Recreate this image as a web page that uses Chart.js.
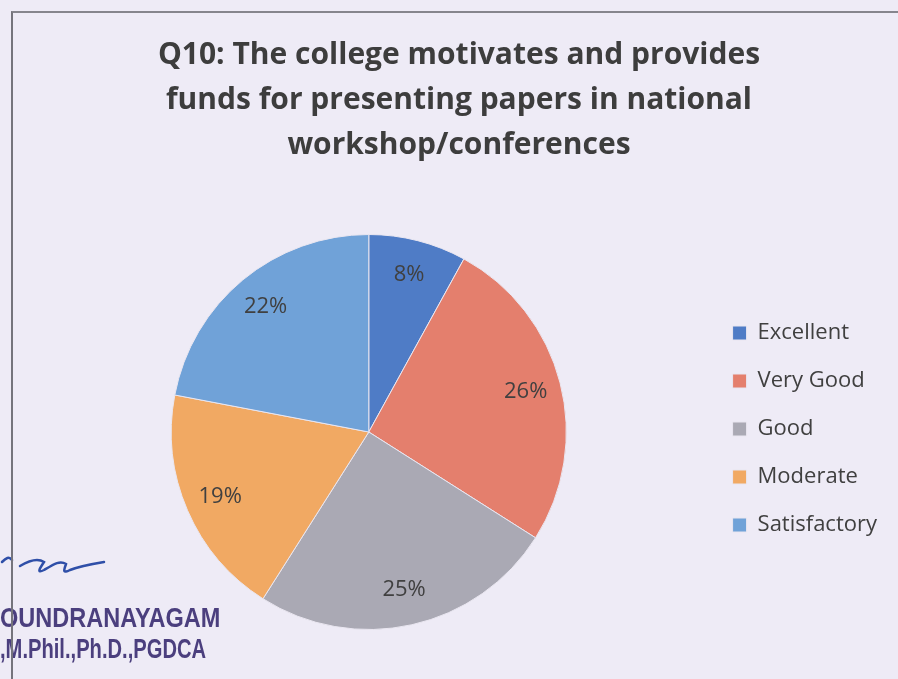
<!DOCTYPE html>
<html lang="en">
<head>
    <meta charset="UTF-8">
    <title>Q10 - funds for presenting papers</title>
    <script src="https://cdn.jsdelivr.net/npm/chart.js"></script>
    <style>
        body { margin: 0; width: 898px; height: 679px; overflow: hidden; position: relative; background: #eeebf6; }
        #box { position: absolute; left: 0; top: 0; width: 898px; height: 679px; }
        #frame { position: absolute; left: 11px; top: 11px; width: 900px; height: 700px;
                 border-left: 2px solid #75747c; border-top: 2px solid #86858d; z-index: 3; }
        .stamp { position: absolute; left: 0; font-family: "Liberation Sans", Arial, sans-serif; font-size: 28px;
                 font-weight: bold; color: #4b3f7e; white-space: nowrap; z-index: 2; transform-origin: 0 0; }
        #sig { position: absolute; left: 0; top: 548px; z-index: 2; }
    </style>
</head>
<body>
    <div id="box"><canvas id="pieChart" width="898" height="679"></canvas></div>
    <div id="frame"></div>
    <svg id="sig" width="120" height="40">
        <path d="M2 14 C6 10 9 8 12 12 M20 18 C30 12 38 10 44 14 C40 20 36 26 44 22 C54 16 60 12 66 16 C64 22 62 26 70 22 C80 18 92 16 104 14"
              fill="none" stroke="#2f4fa8" stroke-width="2.5" stroke-linecap="round"/>
    </svg>
    <div class="stamp" style="top:602px; transform:scaleX(0.84);">OUNDRANAYAGAM</div>
    <div class="stamp" style="top:633px; transform:scaleX(0.72);">,M.Phil.,Ph.D.,PGDCA</div>

    <script>
        // chart data
        var categories = ['Excellent', 'Very Good', 'Good', 'Moderate', 'Satisfactory'];
        var percents = [8, 26, 25, 19, 22];
        var sliceColors = ['#4f7cc6', '#e47f6d', '#aaa9b4', '#f1a963', '#70a2d8'];
        var titleLines = ['Q10: The college motivates and provides',
                          'funds for presenting papers in national',
                          'workshop/conferences'];

        // draws the % labels inside each slice
        var sliceLabels = {
            id: 'sliceLabels',
            afterDatasetsDraw: function (chart) {
                var ctx = chart.ctx;
                var meta = chart.getDatasetMeta(0);
                ctx.save();
                ctx.font = '22px "Open Sans"';
                ctx.fillStyle = '#404040';
                ctx.textAlign = 'center';
                ctx.textBaseline = 'middle';
                meta.data.forEach(function (arc, i) {
                    var p = arc.getProps(['x', 'y', 'startAngle', 'endAngle', 'outerRadius'], true);
                    var mid = (p.startAngle + p.endAngle) / 2;
                    var r = p.outerRadius * 0.82;
                    ctx.fillText(percents[i] + '%', p.x + Math.cos(mid) * r, p.y + Math.sin(mid) * r);
                });
                ctx.restore();
            }
        };

        var ctx = document.getElementById('pieChart').getContext('2d');
        new Chart(ctx, {
            type: 'pie',
            data: {
                labels: categories,
                datasets: [{
                    data: percents,
                    backgroundColor: sliceColors,
                    borderColor: '#e9e6f0',
                    borderWidth: 1
                }]
            },
            options: {
                responsive: false,
                animation: false,
                devicePixelRatio: 1,
                layout: { padding: { left: 31, right: 11, top: 12, bottom: 49 } },
                plugins: {
                    title: {
                        display: true,
                        text: titleLines,
                        color: '#3d3d3d',
                        font: { family: 'Open Sans', size: 30, weight: 'bold', lineHeight: 1.5 },
                        padding: { top: 21, bottom: 66 }
                    },
                    legend: {
                        position: 'right',
                        maxWidth: 184,
                        // empty title only pushes the items down to the pie's middle
                        title: { display: true, text: ' ', font: { size: 10, lineHeight: 1 }, padding: { top: 206, bottom: 0 } },
                        labels: {
                            color: '#404040',
                            font: { family: 'Open Sans', size: 22 },
                            boxWidth: 14,
                            boxHeight: 14,
                            padding: 26
                        }
                    },
                    tooltip: { enabled: false }
                }
            },
            plugins: [sliceLabels]
        });
    </script>
</body>
</html>
